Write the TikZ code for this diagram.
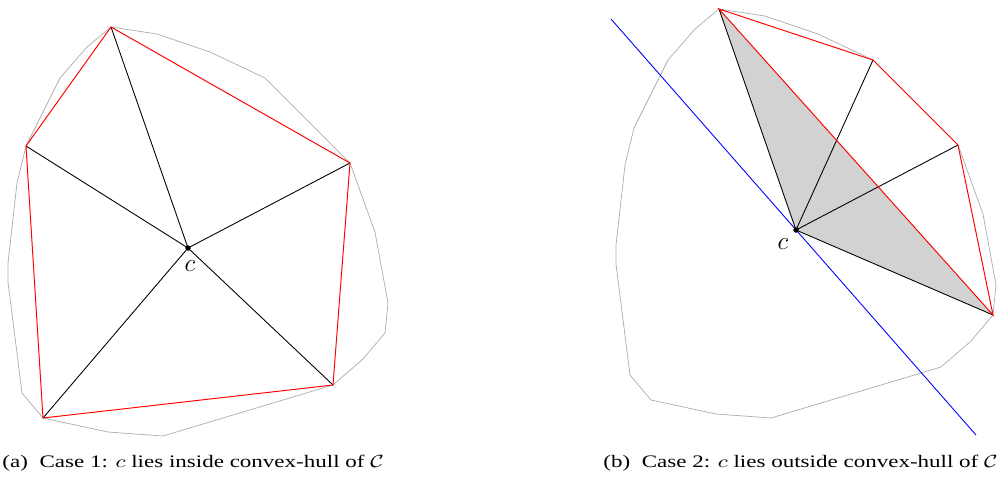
\documentclass[tikz,border=0pt]{standalone}
\usepackage{amsmath, amssymb}
\usepackage{fontspec}
\setmainfont{Liberation Serif}

\begin{document}
\begin{tikzpicture}[
  x=0.02cm, y=-0.02cm,
  hull/.style={draw, gray!65},
  spoke/.style={draw, black, line width=0.5pt},
  rim/.style={draw, red, line width=0.55pt},
  cut/.style={draw, blue, line width=0.5pt},
  centre/.style={circle, fill, minimum size=1.1mm, inner sep=0pt},
  lbl/.style={font=\Large, inner sep=0pt},
  capt/.style={anchor=base west, inner sep=0pt, xscale=1.31, transform shape}
]
  \useasboundingbox (0,0) rectangle (1005,478);
  % the point set, same in both panels
  \foreach \dx/\dy in {0/0, 608/-18}
    \draw[hull, shift={(\dx,\dy)}] (111,27) -- (157,34) -- (210,52) -- (265,78)
      -- (350,163) -- (375,232) -- (388,303) -- (385,333) -- (363,359)
      -- (333,385) -- (163,436) -- (108,432) -- (43,418) -- (22,393)
      -- (8,282) -- (8,263) -- (17,183) -- (26,146) -- (60,78) -- (87,47) -- cycle;

  % case 1
  \coordinate (c1) at (188,248);
  \coordinate (a1) at (111,27);
  \coordinate (a2) at (350,163);
  \coordinate (a3) at (333,385);
  \coordinate (a4) at (43,418);
  \coordinate (a5) at (26,146);
  \foreach \n in {a1,a2,a3,a4,a5} \draw[spoke] (c1) -- (\n);
  \draw[rim] (a1) -- (a2) -- (a3) -- (a4) -- (a5) -- cycle;
  \node[centre] (d1) at (c1) {};
  \node[lbl] (l1) at (190,266) {$c$};

  % case 2
  \begin{scope}[shift={(608,-18)}]
    \coordinate (c2) at (188,248);
    \coordinate (b1) at (111,27);
    \coordinate (b2) at (265,78);
    \coordinate (b3) at (350,163);
    \coordinate (b4) at (385,333);
    \coordinate (u) at (3,37);
    \coordinate (v) at (368,453);
    \fill[gray!35] (b1) -- (c2) -- (b4) -- cycle;
    \draw[cut] (u) -- (v);
    \foreach \n in {b1,b2,b3,b4} \draw[spoke] (c2) -- (\n);
    \draw[rim] (b1) -- (b2) -- (b3) -- (b4) -- cycle;
    \node[centre] (d2) at (c2) {};
    \node[lbl] (l2) at (175,262) {$c$};
  \end{scope}

  \node[capt] (cap1) at (2,467) {(a)\enspace Case 1: $c$ lies inside convex-hull of $\mathcal{C}$};
  \node[capt] (cap2) at (603,467) {(b)\enspace Case 2: $c$ lies outside convex-hull of $\mathcal{C}$};
\end{tikzpicture}
\end{document}
